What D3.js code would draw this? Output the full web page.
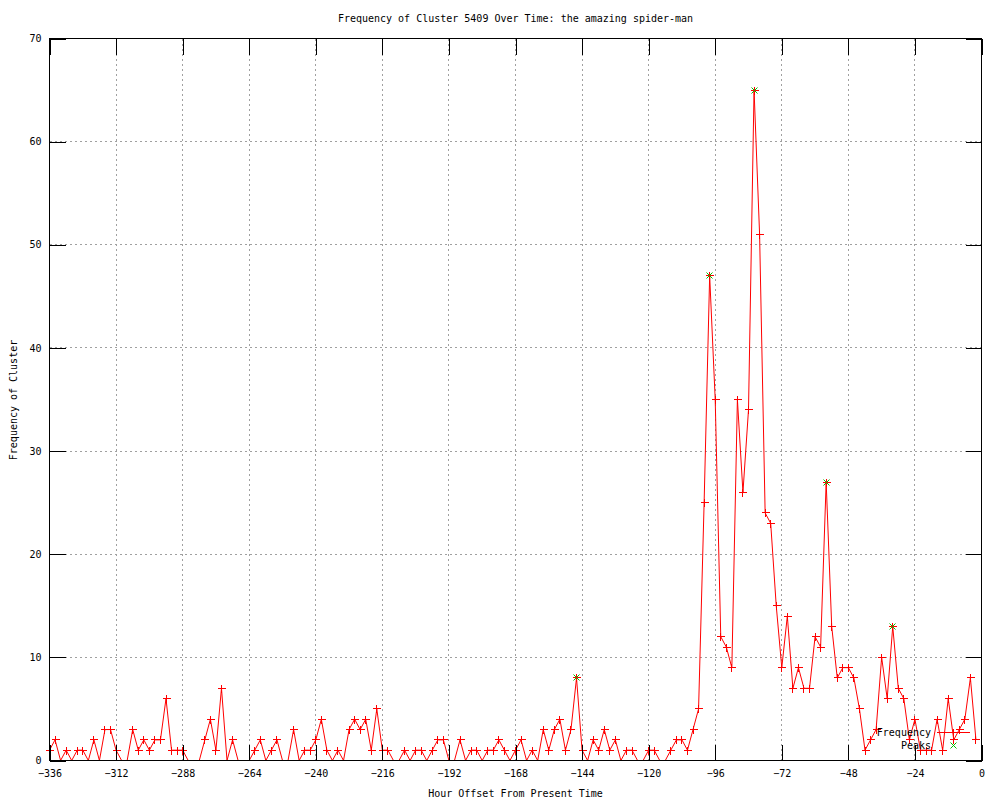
<!DOCTYPE html>
<html>
<head>
<meta charset="utf-8">
<script src="https://cdn.jsdelivr.net/npm/d3@7"></script>
<style>
  html, body { margin: 0; padding: 0; background: #ffffff; }
  svg { display: block; }
  text { font-family: "DejaVu Sans Mono", "Liberation Mono", monospace; font-size: 10px; fill: #000; }
</style>
</head>
<body>
<svg id="chart" width="1000" height="800"></svg>
<script>
// ---------- data ----------
const chartTitle = "Frequency of Cluster 5409 Over Time: the amazing spider-man";
const xAxisTitle = "Hour Offset From Present Time";
const yAxisTitle = "Frequency of Cluster";

const hours = [
  -336,-334,-332,-330,-328,-326,-324,-322,-320,-318,-316,-314,-312,-310,-308,-306,-304,-302,-300,-298,
  -296,-294,-292,-290,-288,-286,-284,-282,-280,-278,-276,-274,-272,-270,-268,-266,-264,-262,-260,-258,
  -256,-254,-252,-250,-248,-246,-244,-242,-240,-238,-236,-234,-232,-230,-228,-226,-224,-222,-220,-218,
  -216,-214,-212,-210,-208,-206,-204,-202,-200,-198,-196,-194,-192,-190,-188,-186,-184,-182,-180,-178,
  -176,-174,-172,-170,-168,-166,-164,-162,-160,-158,-156,-154,-152,-150,-148,-146,-144,-142,-140,-138,
  -136,-134,-132,-130,-128,-126,-124,-122,-120,-118,-116,-114,-112,-110,-108,-106,-104,-102,-100,-98,
  -96,-94,-92,-90,-88,-86,-84,-82,-80,-78,-76,-74,-72,-70,-68,-66,-64,-62,-60,-58,
  -56,-54,-52,-50,-48,-46,-44,-42,-40,-38,-36,-34,-32,-30,-28,-26,-24,-22,-20,-18,
  -16,-14,-12,-10,-8,-6,-4,-2
];

const frequency = [
  1,2,0,1,0,1,1,0,2,0,3,3,1,0,0,3,1,2,1,2,
  2,6,1,1,1,0,0,0,2,4,1,7,0,2,0,0,0,1,2,0,
  1,2,0,0,3,0,1,1,2,4,1,0,1,0,3,4,3,4,1,5,
  1,1,0,0,1,0,1,1,0,1,2,2,0,0,2,0,1,1,0,1,
  1,2,1,0,1,2,0,1,0,3,1,3,4,1,3,8,1,0,2,1,
  3,1,2,0,1,1,0,0,1,1,0,0,1,2,2,1,3,5,25,47,
  35,12,11,9,35,26,34,65,51,24,23,15,9,14,7,9,7,7,12,11,
  27,13,8,9,9,8,5,1,2,3,10,6,13,7,6,2,4,1,1,1,
  4,1,6,2,3,4,8,2
];

const peakHours  = [-146, -98, -82, -56, -32];
const peakValues = [8, 47, 65, 27, 13];

const xTicks = [-336,-312,-288,-264,-240,-216,-192,-168,-144,-120,-96,-72,-48,-24,0];
const yTicks = [0,10,20,30,40,50,60,70];

const legendLabels = ["Frequency", "Peaks"];

// ---------- drawing ----------
(function () {
const svg = d3.select("#chart");
const pLeft = 49.5, pRight = 981.5, pTop = 38.5, pBottom = 760.5;

const x = d3.scaleLinear().domain([-336, 0]).range([pLeft, pRight]);
const y = d3.scaleLinear().domain([0, 70]).range([pBottom, pTop]);

const snap = v => Math.round(v - 0.5) + 0.5;

// grid
const grid = svg.append("g").attr("stroke", "#a0a0a0").attr("stroke-width", 1)
  .attr("stroke-dasharray", "2,3").attr("shape-rendering", "crispEdges");
grid.selectAll("line.gx").data(xTicks.filter(t => t !== -336 && t !== 0)).join("line")
  .attr("class", "gx")
  .attr("x1", d => snap(x(d))).attr("x2", d => snap(x(d)))
  .attr("y1", pTop).attr("y2", pBottom);
grid.selectAll("line.gy").data(yTicks.filter(t => t !== 0 && t !== 70)).join("line")
  .attr("class", "gy")
  .attr("y1", d => snap(y(d))).attr("y2", d => snap(y(d)))
  .attr("x1", pLeft).attr("x2", pRight);

// clip path for data
svg.append("clipPath").attr("id", "plotclip").append("rect")
  .attr("x", pLeft).attr("y", pTop).attr("width", pRight - pLeft).attr("height", pBottom - pTop);

const pts = hours.map((h, i) => ({ h, v: frequency[i] }));

// line
const line = d3.line().x(d => x(d.h)).y(d => y(d.v));
svg.append("path").datum(pts)
  .attr("clip-path", "url(#plotclip)")
  .attr("fill", "none").attr("stroke", "#ff0000").attr("stroke-width", 1)
  .attr("d", line);

// point markers (+), points lying on the border are not drawn
const plus = "M-4,0H4M0,-4V4";
svg.append("g").attr("stroke", "#ff0000").attr("stroke-width", 1).attr("fill", "none")
  .attr("shape-rendering", "crispEdges")
  .selectAll("path").data(pts.filter(d => d.v > 0)).join("path")
  .attr("transform", d => `translate(${snap(x(d.h))},${snap(y(d.v))})`)
  .attr("d", plus);

// peaks (green x)
const cross = "M-3,-3L3,3M-3,3L3,-3";
svg.append("g").attr("stroke", "#00c000").attr("stroke-width", 1).attr("fill", "none")
  .selectAll("path").data(peakHours.map((h, i) => ({ h, v: peakValues[i] }))).join("path")
  .attr("transform", d => `translate(${snap(x(d.h))},${snap(y(d.v))})`)
  .attr("d", cross);

// axes with inward ticks
const tickLen = 16;
const axB = svg.append("g").attr("transform", `translate(0,${pBottom})`)
  .call(d3.axisBottom(x).tickValues(xTicks).tickSize(-tickLen).tickPadding(9).tickFormat(d3.format("d")));
const axT = svg.append("g").attr("transform", `translate(0,${pTop})`)
  .call(d3.axisTop(x).tickValues(xTicks).tickSize(-tickLen).tickFormat(""));
const axL = svg.append("g").attr("transform", `translate(${pLeft},0)`)
  .call(d3.axisLeft(y).tickValues(yTicks).tickSize(-tickLen).tickPadding(8).tickFormat(d3.format("d")));
const axR = svg.append("g").attr("transform", `translate(${pRight},0)`)
  .call(d3.axisRight(y).tickValues(yTicks).tickSize(-tickLen).tickFormat(""));
[axB, axT, axL, axR].forEach(a => {
  a.select(".domain").remove();
  a.selectAll("line").attr("stroke", "#000").attr("shape-rendering", "crispEdges");
  a.selectAll("text").attr("font-family", null).attr("font-size", null).style("fill", "#000");
});

// frame
svg.append("rect").attr("x", pLeft).attr("y", pTop)
  .attr("width", pRight - pLeft).attr("height", pBottom - pTop)
  .attr("fill", "none").attr("stroke", "#000").attr("stroke-width", 1)
  .attr("shape-rendering", "crispEdges");

// titles
svg.append("text").attr("x", (pLeft + pRight) / 2).attr("y", 22).attr("text-anchor", "middle").text(chartTitle);
svg.append("text").attr("x", (pLeft + pRight) / 2).attr("y", 797).attr("text-anchor", "middle").text(xAxisTitle);
svg.append("text").attr("transform", "translate(17,400) rotate(-90)").attr("text-anchor", "middle").text(yAxisTitle);

// legend
const lg = svg.append("g");
lg.append("text").attr("x", 931).attr("y", 736).attr("text-anchor", "end").text(legendLabels[0]);
lg.append("line").attr("x1", 937).attr("x2", 970).attr("y1", 732.5).attr("y2", 732.5)
  .attr("stroke", "#ff0000").attr("shape-rendering", "crispEdges");
lg.append("path").attr("transform", "translate(953.5,732.5)").attr("d", plus)
  .attr("stroke", "#ff0000").attr("fill", "none").attr("shape-rendering", "crispEdges");
lg.append("text").attr("x", 931).attr("y", 749).attr("text-anchor", "end").text(legendLabels[1]);
lg.append("path").attr("transform", "translate(953.5,745.5)").attr("d", cross)
  .attr("stroke", "#00c000").attr("fill", "none");
})();
</script>
</body>
</html>
